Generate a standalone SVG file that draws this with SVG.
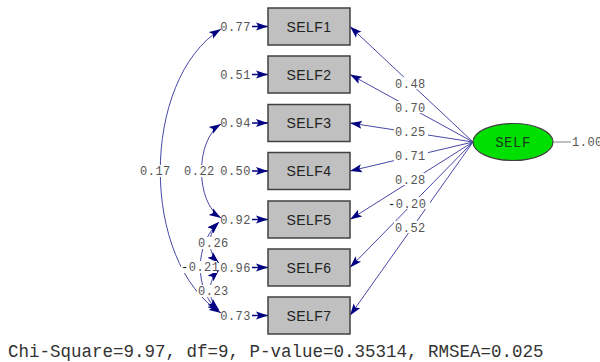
<svg xmlns="http://www.w3.org/2000/svg" width="600" height="362" viewBox="0 0 600 362">
<defs>
<marker id="ah" markerUnits="userSpaceOnUse" markerWidth="13" markerHeight="9" refX="12" refY="4.5" orient="auto-start-reverse"><path d="M0,0.5 L12,4.5 L0,8.5 L2.5,4.5 z" fill="#000080"/></marker>
<style>
.box{fill:#c0c0c0;stroke:#404040;stroke-width:1.5}
.bl{font-family:"Liberation Sans",Arial,sans-serif;font-size:14px;fill:#222;text-anchor:middle;letter-spacing:0.4px}
.num{font-family:"Liberation Mono","Courier New",monospace;font-size:12px;fill:#555;letter-spacing:0.5px}
.c{fill:none;stroke:#4848a8;stroke-width:1}
.e{fill:none;stroke:#000080;stroke-width:1.5}
.bg{fill:#fff}
</style>
</defs>
<rect width="600" height="362" fill="#fff"/>
<g id="connectors">
<g class="c" marker-end="url(#ah)">
<path d="M473,142 L350,26.5"/>
<path d="M473,142 L350,74.5"/>
<path d="M473,142 L350,123"/>
<path d="M473,142 L350,171"/>
<path d="M473,142 L350,219.5"/>
<path d="M473,142 L350,267.5"/>
<path d="M473,142 L350,315.5"/>
</g>
<g class="e" marker-end="url(#ah)">
<path d="M252,26.5 L268,26.5"/>
<path d="M252,74.5 L268,74.5"/>
<path d="M252,123 L268,123"/>
<path d="M252,171 L268,171"/>
<path d="M252,219.5 L268,219.5"/>
<path d="M252,267.5 L268,267.5"/>
<path d="M252,315.5 L268,315.5"/>
</g>
<g class="c" marker-start="url(#ah)" marker-end="url(#ah)">
<path d="M221,29 C140,80 140,262 221,313"/>
<path d="M221,124 C195,140 195,202 221,218"/>
<path d="M219,222 C207,234 207,252 219,263"/>
<path d="M219,222 C194,245 194,290 219,312"/>
<path d="M219,270 C207,282 207,299 219,310"/>
</g>
<line x1="553" y1="142" x2="571" y2="142" stroke="#aaa" stroke-width="1.5"/>
<g>
<rect class="bg" x="394" y="77" width="34" height="12"/>
<rect class="bg" x="394" y="101" width="34" height="12"/>
<rect class="bg" x="394" y="125" width="34" height="12"/>
<rect class="bg" x="394" y="149" width="34" height="12"/>
<rect class="bg" x="394" y="173" width="34" height="12"/>
<rect class="bg" x="388" y="197" width="42" height="12"/>
<rect class="bg" x="394" y="221" width="34" height="12"/>
<rect class="bg" x="140" y="165" width="33" height="12"/>
<rect class="bg" x="184" y="165" width="31" height="12"/>
<rect class="bg" x="197" y="237" width="32" height="12"/>
<rect class="bg" x="181" y="261" width="36" height="12"/>
<rect class="bg" x="197" y="285" width="32" height="12"/>
</g>
<g class="num">
<text x="395" y="88">0.48</text>
<text x="395" y="112">0.70</text>
<text x="395" y="136">0.25</text>
<text x="395" y="160">0.71</text>
<text x="395" y="184">0.28</text>
<text x="388" y="208"><tspan fill="#111">-</tspan>0.20</text>
<text x="395" y="232">0.52</text>
<text x="140" y="175">0.17</text>
<text x="184" y="175">0.22</text>
<text x="198" y="247">0.26</text>
<text x="181" y="271"><tspan fill="#111">-</tspan>0.21</text>
<text x="198" y="295">0.23</text>
<text x="572" y="146">1.00</text>
</g>
</g>
<g class="num" text-anchor="end">
<text x="251" y="30.5">0.77</text>
<text x="251" y="78.5">0.51</text>
<text x="251" y="127">0.94</text>
<text x="251" y="175">0.50</text>
<text x="251" y="223.5">0.92</text>
<text x="251" y="271.5">0.96</text>
<text x="251" y="319.5">0.73</text>
</g>
<g id="SELF1"><rect class="box" x="268" y="8" width="82" height="37"/><text class="bl" x="309" y="31.5">SELF1</text></g>
<g id="SELF2"><rect class="box" x="268" y="56" width="82" height="37"/><text class="bl" x="309" y="79.5">SELF2</text></g>
<g id="SELF3"><rect class="box" x="268" y="104.5" width="82" height="37"/><text class="bl" x="309" y="128">SELF3</text></g>
<g id="SELF4"><rect class="box" x="268" y="152.5" width="82" height="37"/><text class="bl" x="309" y="176">SELF4</text></g>
<g id="SELF5"><rect class="box" x="268" y="201" width="82" height="37"/><text class="bl" x="309" y="224.5">SELF5</text></g>
<g id="SELF6"><rect class="box" x="268" y="249" width="82" height="37"/><text class="bl" x="309" y="272.5">SELF6</text></g>
<g id="SELF7"><rect class="box" x="268" y="297" width="82" height="37"/><text class="bl" x="309" y="320.5">SELF7</text></g>
<g id="SELF"><ellipse cx="513" cy="142" rx="40" ry="18.5" fill="#00e000" stroke="#404040" stroke-width="1.2"/><text x="513" y="146.5" text-anchor="middle" font-family="Liberation Mono, Courier New, monospace" font-size="14" letter-spacing="0.5" fill="#1a3a1a">SELF</text></g>
<text x="8" y="357" font-family="Liberation Mono, Courier New, monospace" font-size="17.5" fill="#333">Chi-Square=9.97, df=9, P-value=0.35314, RMSEA=0.025</text>
</svg>
